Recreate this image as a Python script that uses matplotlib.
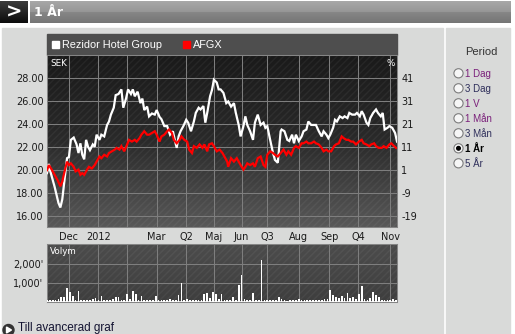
import numpy as np
import matplotlib
matplotlib.use('Agg')
import matplotlib.pyplot as plt
from matplotlib.patches import Rectangle, Circle, Polygon
from matplotlib.colors import LinearSegmentedColormap

plt.rcParams['axes.unicode_minus'] = False
W, H = 515, 334

# ---------- data (x = days since 2011-11-08) ----------
rez_day = [0, 2, 3, 8, 12, 14, 16, 18, 21, 23, 25, 28, 31, 33, 35, 37, 39, 41, 43, 45,
           48, 50, 52, 55, 57, 60, 63, 65, 67, 70, 72, 75, 78, 80, 83, 85, 88, 90, 92, 95,
           98, 100, 102, 105, 107, 110, 113, 115, 118, 120, 123, 126, 129, 132, 134, 136, 138, 140, 143, 146,
           148, 151, 154, 156, 159, 161, 164, 166, 168, 171, 173, 175, 178, 180, 182, 185, 188, 190, 193, 196,
           198, 201, 203, 206, 208, 210, 213, 216, 218, 221, 224, 227, 229, 231, 234, 237, 239, 242, 245, 246,
           249, 252, 254, 257, 259, 261, 264, 267, 269, 272, 274, 277, 280, 282, 285, 288, 290, 293, 295, 297,
           300, 302, 304, 307, 310, 312, 315, 317, 320, 323, 325, 328, 330, 332, 335, 337, 339, 342, 345, 347,
           350, 352, 354, 357, 359, 362, 365, 367]
rez_sek = [19.7, 20.5, 20.0, 18.5, 17.1, 16.7, 17.4, 18.85, 21.0, 21.1, 22.6, 22.8, 22.2, 21.45, 22.3, 21.3, 20.9, 22.6, 22.0, 21.7,
           22.2, 22.0, 23.05, 22.6, 23.05, 22.9, 23.9, 24.2, 24.8, 25.4, 26.5, 26.6, 27.0, 25.4, 26.25, 27.0, 26.6, 27.0, 26.4, 26.8,
           25.8, 26.2, 25.2, 25.5, 24.65, 24.9, 24.8, 25.2, 24.6, 24.4, 23.8, 23.8, 23.05, 23.35, 22.6, 21.9, 22.9, 23.35, 23.8, 24.35,
           24.1, 23.35, 24.2, 24.95, 25.4, 25.25, 25.55, 24.1, 24.95, 26.4, 26.95, 27.85, 27.6, 27.0, 27.0, 26.7, 25.8, 25.95, 25.5, 25.8,
           24.95, 23.9, 22.9, 23.8, 24.65, 23.9, 23.35, 22.6, 24.1, 24.8, 23.9, 24.1, 23.65, 23.8, 22.6, 21.45, 20.85, 20.6, 23.35, 23.5,
           23.35, 22.6, 22.5, 23.05, 22.3, 23.05, 22.5, 22.9, 23.35, 23.5, 24.2, 23.9, 23.9, 23.9, 23.35, 22.9, 23.35, 23.05, 22.75, 23.05,
           23.65, 24.35, 24.2, 24.65, 24.5, 24.65, 24.5, 24.95, 24.8, 24.8, 24.95, 24.65, 25.1, 24.8, 24.1, 23.9, 24.5, 24.95, 25.25, 24.95,
           24.65, 24.95, 23.5, 23.65, 23.8, 23.65, 23.2, 22.45]

afgx_day = [0, 2, 5, 8, 11, 14, 16, 18, 21, 23, 25, 28, 30, 33, 35, 37, 39, 42, 44, 47,
            50, 52, 55, 57, 60, 63, 65, 68, 71, 73, 76, 78, 81, 84, 86, 89, 92, 94, 97, 99,
            102, 105, 107, 110, 113, 115, 118, 120, 123, 126, 128, 131, 133, 136, 139, 141, 144, 147, 149, 152,
            154, 157, 160, 163, 165, 168, 170, 173, 175, 178, 181, 184, 186, 189, 190, 193, 196, 199, 201, 203,
            206, 208, 210, 213, 216, 218, 221, 224, 227, 229, 231, 234, 237, 239, 242, 245, 248, 251, 253, 256,
            259, 261, 264, 267, 269, 272, 274, 277, 280, 282, 285, 288, 290, 293, 295, 298, 301, 303, 306, 309,
            311, 314, 316, 319, 321, 324, 327, 330, 332, 335, 338, 340, 343, 345, 348, 351, 353, 356, 359, 361,
            364, 366]
afgx_sek = [19.95, 20.4, 20.0, 19.55, 19.1, 18.55, 18.95, 19.7, 20.7, 20.4, 20.55, 20.25, 19.85, 20.0, 19.55, 19.7, 19.55, 20.0, 20.25, 20.1,
            20.4, 20.7, 21.15, 21.0, 21.3, 21.15, 21.45, 21.6, 21.75, 21.9, 21.75, 22.05, 21.6, 22.2, 22.6, 22.45, 22.6, 22.45, 22.75, 23.05,
            23.35, 23.05, 23.05, 23.2, 23.35, 23.05, 22.45, 22.9, 23.05, 23.35, 23.5, 23.2, 22.6, 22.3, 22.6, 22.9, 22.6, 22.45, 21.75, 21.45,
            22.05, 21.9, 22.2, 21.9, 22.2, 21.6, 22.2, 22.3, 22.05, 21.6, 21.75, 21.45, 21.15, 20.7, 20.25, 21.0, 20.7, 21.0, 20.7, 20.4,
            20.0, 20.25, 20.55, 20.4, 20.55, 20.25, 21.0, 21.15, 20.4, 20.25, 21.3, 21.6, 21.45, 21.3, 21.15, 21.45, 21.75, 21.3, 21.6, 21.3,
            21.9, 22.05, 21.9, 22.3, 22.3, 22.45, 22.3, 22.3, 22.45, 22.3, 22.2, 21.9, 21.6, 21.75, 21.6, 21.6, 22.05, 22.2, 22.3, 22.9,
            22.75, 22.6, 22.6, 22.45, 22.45, 22.2, 22.45, 22.6, 22.3, 22.2, 22.05, 22.2, 22.3, 22.05, 21.9, 21.9, 22.05, 21.9, 22.2, 22.3,
            22.05, 21.9]

vol_day = np.arange(0, 367, 3)
vol_k = [100, 120, 130, 110, 180, 250, 260, 720, 540, 300, 120, 580, 90, 100, 80, 120, 150, 200, 110, 330,
         100, 90, 120, 180, 260, 240, 100, 130, 420, 150, 600, 400, 120, 330, 100, 90, 130, 110, 330, 100,
         80, 120, 100, 150, 90, 110, 370, 1020, 100, 140, 90, 120, 100, 130, 110, 400, 490, 200, 530, 420,
         150, 400, 100, 80, 120, 250, 90, 890, 1410, 150, 100, 110, 475, 90, 100, 2200, 120, 100, 130, 80,
         110, 265, 180, 90, 70, 100, 120, 90, 140, 80, 120, 130, 100, 80, 90, 120, 100, 140, 180, 615,
         350, 250, 200, 300, 220, 450, 200, 260, 180, 400, 825, 150, 120, 200, 520, 380, 280, 120, 100, 80,
         110, 150, 90]

month_ticks = [23, 54, 84, 115, 146, 175, 204, 231, 264, 296, 326, 360]
month_labels = ['Dec', '2012', '', 'Mar', 'Q2', 'Maj', 'Jun', 'Q3', 'Aug', 'Sep', 'Q4', 'Nov']
sek_ticks = [16, 18, 20, 22, 24, 26, 28]
pct_ticks = [41, 31, 21, 11, 1, -9, -19]
vol_ticks = [1000, 2000]
vol_labels = ["1,000'", "2,000'"]
periods = ['1 Dag', '3 Dag', '1 V', '1 Mån', '3 Mån', '1 År', '5 År']
period_colors = ['#7a1f7a', '#2e2e5a', '#7a1f7a', '#7a1f7a', '#2e2e5a', '#000000', '#2e2e5a']
selected = '1 År'


def frac(x0, y0, x1, y1):
    return [x0 / W, 1 - y1 / H, (x1 - x0) / W, (y1 - y0) / H]


def vgrad(ax, x0, y0, x1, y1, colors, z=1):
    cmap = LinearSegmentedColormap.from_list('g', colors)
    g = np.linspace(0, 1, 128).reshape(-1, 1)
    ax.imshow(g, cmap=cmap, extent=[x0, x1, y1, y0], origin='upper',
              aspect='auto', interpolation='bilinear', zorder=z)


def texture(ax, x0, y0, x1, y1):
    ax.add_patch(Rectangle((x0, y0), x1 - x0, y1 - y0, facecolor='none',
                           edgecolor=(1, 1, 1, 0.05), hatch='/////', lw=0, zorder=2))


fig = plt.figure(figsize=(W / 100, H / 100), dpi=100)
fig.patch.set_facecolor('white')

# ---------- page background in pixel coords ----------
bg = fig.add_axes([0, 0, 1, 1])
bg.set_zorder(0)
bg.axis('off')
bg.add_patch(Rectangle((2, 28), 441, 306, color='#d9dad9', zorder=0))
bg.add_patch(Rectangle((446, 28), 64, 306, color='#d9dad9', zorder=0))
vgrad(bg, 0, 1, 28, 23, ['#3c3c3c', '#0c0c0c'])
vgrad(bg, 30, 1, 511, 12, ['#a8a8a8', '#969696'])
vgrad(bg, 30, 12, 511, 23, ['#878787', '#757575'])
bg.text(14, 12.5, '>', color='white', fontsize=14, fontweight='bold', ha='center', va='center')
bg.text(34, 12.5, '1 År', color='white', fontsize=9, fontweight='bold', ha='left', va='center')

# legend bar
bg.add_patch(Rectangle((47, 34), 350, 21, color='#4e4e4e', zorder=1))
bg.add_patch(Rectangle((52, 41), 7, 7, color='white', zorder=3))
bg.text(62.5, 44.5, 'Rezidor Hotel Group', color='white', fontsize=7.8,
        family='Liberation Sans', ha='left', va='center', zorder=3)
bg.add_patch(Rectangle((182.5, 41), 7.5, 7, color='#ff0000', zorder=3))
bg.text(193, 44.5, 'AFGX', color='white', fontsize=7.8,
        family='Liberation Sans', ha='left', va='center', zorder=3)

# plot backgrounds
vgrad(bg, 47, 55, 397, 227, ['#1a1a1a', '#2a2a2a', '#585858'])
texture(bg, 47, 55, 397, 227)
vgrad(bg, 47, 244, 397, 302, ['#4c4c4c', '#3e3e3e'])
texture(bg, 47, 244, 397, 302)

# period selector
bg.text(481, 52, 'Period', color='#333333', fontsize=8, family='Liberation Sans',
        ha='center', va='center')
for i, (lab, col) in enumerate(zip(periods, period_colors)):
    yc = 73.3 + i * 15
    bg.add_patch(Circle((458.5, yc), 4.6, facecolor='#f6f6f6', edgecolor='#7c7c7c', lw=0.8, zorder=3))
    if lab == selected:
        bg.add_patch(Circle((458.5, yc), 1.8, color='black', zorder=4))
    bg.text(465, yc + 0.5, lab, color=col, fontsize=7, family='Liberation Sans',
            fontweight='bold' if lab == selected else 'normal', ha='left', va='center')

# link at bottom
bg.add_patch(Circle((8.5, 330), 5.5, color='#333333', zorder=3))
bg.add_patch(Polygon([[6.5, 327], [6.5, 333], [11.5, 330]], closed=True, color='white', zorder=4))
bg.text(18, 330.5, 'Till avancerad graf', color='#141432', fontsize=8.5,
        family='Liberation Sans', ha='left', va='baseline')

bg.set_xlim(0, W)
bg.set_ylim(H, 0)

# ---------- price chart ----------
ax = fig.add_axes(frac(47, 55, 397, 227))
ax.set_zorder(2)
ax.set_facecolor('none')
ax.plot(rez_day, rez_sek, color='white', lw=1.6, solid_joinstyle='miter', zorder=3)
ax.plot(afgx_day, afgx_sek, color='#ff0000', lw=1.6, solid_joinstyle='miter', zorder=4)
ax.set_xlim(0, 367)
ax.set_ylim(15, 30)
ax.set_yticks(sek_ticks)
ax.set_yticklabels(['%.2f' % v for v in sek_ticks])
ax.set_xticks(month_ticks)
ax.set_xticklabels(month_labels)
ax.grid(True, color='#7e7e7e', lw=0.75, zorder=1)
ax.set_axisbelow(True)
ax.tick_params(length=0, labelsize=7, colors='#1a1a1a', pad=2.5)
ax.tick_params(axis='x', pad=3.5)
for s in ax.spines.values():
    s.set_color('#858585')
    s.set_linewidth(0.75)
sec = ax.secondary_yaxis('right', functions=(lambda p: 5 * p - 99, lambda q: (q + 99) / 5))
sec.set_yticks(pct_ticks)
sec.set_yticklabels([str(v) for v in pct_ticks])
sec.tick_params(length=0, labelsize=7, colors='#1a1a1a', pad=3)
sec.spines['right'].set_visible(False)
fig.text(50 / W, 1 - 63 / H, 'SEK', color='white', fontsize=6.3, ha='left', va='center', zorder=5)
fig.text(395 / W, 1 - 63 / H, '%', color='white', fontsize=6.3, ha='right', va='center', zorder=5)

# ---------- volume chart ----------
axv = fig.add_axes(frac(47, 244, 397, 302))
axv.set_zorder(2)
axv.set_facecolor('none')
axv.bar(vol_day, vol_k, width=1.8, color='white', lw=0, zorder=3)
axv.axhline(0, color='white', lw=1.2, zorder=4)
axv.set_xlim(0, 367)
axv.set_ylim(0, 3050)
axv.set_yticks(vol_ticks)
axv.set_yticklabels(vol_labels)
axv.set_xticks(month_ticks)
axv.set_xticklabels([])
axv.grid(True, color='#7e7e7e', lw=0.75, zorder=1)
axv.set_axisbelow(True)
axv.tick_params(length=0, labelsize=7, colors='#1a1a1a', pad=2.5)
for s in axv.spines.values():
    s.set_color('#858585')
    s.set_linewidth(0.75)
fig.text(50 / W, 1 - 252 / H, 'Volym', color='white', fontsize=6.3, ha='left', va='center', zorder=5)

fig.savefig('out.png', dpi=100, facecolor='white')
